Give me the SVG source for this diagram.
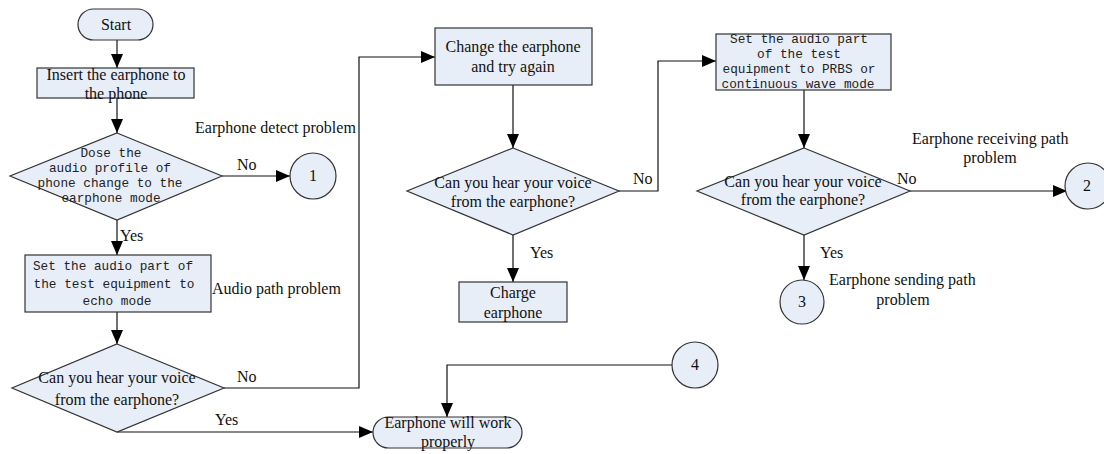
<svg xmlns="http://www.w3.org/2000/svg" width="1104" height="454" viewBox="0 0 1104 454">
<defs>
<marker id="ah" markerUnits="userSpaceOnUse" markerWidth="15" markerHeight="12" refX="14" refY="6" orient="auto">
<path d="M0,0 L14,6 L0,12 Z" fill="#000"/>
</marker>
<style>
.s{fill:#e8eef8;stroke:#333;stroke-width:1.2}
.t{font-family:"Liberation Serif",serif;font-size:16px;fill:#111}
.m{font-family:"Liberation Mono",monospace;font-size:13px;fill:#222}
.c{text-anchor:middle}
.l{fill:none;stroke:#111;stroke-width:1.2}
</style>
</defs>
<rect width="1104" height="454" fill="#fff"/>
<g id="connectors">
<path class="l" d="M117,40 V68" marker-end="url(#ah)"/>
<path class="l" d="M117,98 V133" marker-end="url(#ah)"/>
<path class="l" d="M222,176 H290" marker-end="url(#ah)"/>
<path class="l" d="M117,220 V255" marker-end="url(#ah)"/>
<path class="l" d="M117,312 V344" marker-end="url(#ah)"/>
<path class="l" d="M224,388 H359 V57 H435" marker-end="url(#ah)"/>
<path class="l" d="M117,432 H373" marker-end="url(#ah)"/>
<path class="l" d="M672,365 H447 V417" marker-end="url(#ah)"/>
<path class="l" d="M513,85 V148" marker-end="url(#ah)"/>
<path class="l" d="M619,191 H658 V61 H716" marker-end="url(#ah)"/>
<path class="l" d="M513,235 V282" marker-end="url(#ah)"/>
<path class="l" d="M804,90 V148" marker-end="url(#ah)"/>
<path class="l" d="M910,191 H1067" marker-end="url(#ah)"/>
<path class="l" d="M804,235 V280" marker-end="url(#ah)"/>
</g>
<g id="labels">
<text class="t" x="237" y="170">No</text>
<text class="t" x="195" y="133">Earphone detect problem</text>
<text class="t" x="120" y="241">Yes</text>
<text class="t" x="212" y="294">Audio path problem</text>
<text class="t" x="237" y="382">No</text>
<text class="t" x="215" y="425">Yes</text>
<text class="t" x="633" y="184">No</text>
<text class="t" x="530" y="258">Yes</text>
<text class="t" x="897" y="184">No</text>
<text class="t" x="912" y="144">Earphone receiving path</text>
<text class="t c" x="990" y="163">problem</text>
<text class="t" x="820" y="258">Yes</text>
<text class="t" x="829" y="285">Earphone sending path</text>
<text class="t c" x="903" y="305">problem</text>
</g>
<g id="start">
<rect class="s" x="78" y="9" width="75" height="31" rx="15.5"/>
<text class="t c" x="116" y="30">Start</text>
</g>
<g id="insert">
<rect class="s" x="37" y="68" width="157" height="30"/>
<text class="t c" x="116" y="80">Insert the earphone to</text>
<text class="t c" x="116" y="99">the phone</text>
</g>
<g id="q1">
<polygon class="s" points="117,133 222,176 117,220 10,176"/>
<text class="m c" x="111" y="157" textLength="61" lengthAdjust="spacingAndGlyphs">Dose the</text>
<text class="m c" x="110" y="172" textLength="122" lengthAdjust="spacingAndGlyphs">audio profile of</text>
<text class="m c" x="110" y="187" textLength="145" lengthAdjust="spacingAndGlyphs">phone change to the</text>
<text class="m c" x="111" y="202" textLength="99" lengthAdjust="spacingAndGlyphs">earphone mode</text>
</g>
<g id="c1">
<circle class="s" cx="313" cy="176" r="23"/>
<text class="t c" x="313" y="181">1</text>
</g>
<g id="echo">
<rect class="s" x="25" y="255" width="186" height="57"/>
<text class="m c" x="113" y="270" textLength="160" lengthAdjust="spacingAndGlyphs">Set the audio part of</text>
<text class="m c" x="114" y="288" textLength="161" lengthAdjust="spacingAndGlyphs">the test equipment to</text>
<text class="m c" x="117" y="305" textLength="69" lengthAdjust="spacingAndGlyphs">echo mode</text>
</g>
<g id="q2">
<polygon class="s" points="117,344 224,388 117,432 12,388"/>
<text class="t c" x="117" y="383">Can you hear your voice</text>
<text class="t c" x="117" y="405">from the earphone?</text>
</g>
<g id="work">
<rect class="s" x="373" y="417" width="149" height="31" rx="15.5"/>
<text class="t c" x="448" y="428">Earphone will work</text>
<text class="t c" x="448" y="447">properly</text>
</g>
<g id="c4">
<circle class="s" cx="695" cy="365" r="23"/>
<text class="t c" x="695" y="370">4</text>
</g>
<g id="change">
<rect class="s" x="435" y="28" width="157" height="57"/>
<text class="t c" x="513" y="52">Change the earphone</text>
<text class="t c" x="513" y="72">and try again</text>
</g>
<g id="q3">
<polygon class="s" points="513,148 619,191 513,235 407,191"/>
<text class="t c" x="513" y="188">Can you hear your voice</text>
<text class="t c" x="513" y="207">from the earphone?</text>
</g>
<g id="charge">
<rect class="s" x="459" y="282" width="108" height="40"/>
<text class="t c" x="513" y="298">Charge</text>
<text class="t c" x="513" y="318">earphone</text>
</g>
<g id="prbs">
<rect class="s" x="716" y="34" width="175" height="56"/>
<text class="m c" x="799" y="43" textLength="138" lengthAdjust="spacingAndGlyphs">Set the audio part</text>
<text class="m c" x="799" y="58" textLength="84" lengthAdjust="spacingAndGlyphs">of the test</text>
<text class="m c" x="799" y="73" textLength="153" lengthAdjust="spacingAndGlyphs">equipment to PRBS or</text>
<text class="m c" x="798" y="88" textLength="153" lengthAdjust="spacingAndGlyphs">continuous wave mode</text>
</g>
<g id="q4">
<polygon class="s" points="804,148 910,191 804,235 697,191"/>
<text class="t c" x="803" y="187">Can you hear your voice</text>
<text class="t c" x="803" y="205">from the earphone?</text>
</g>
<g id="c2">
<circle class="s" cx="1088" cy="186" r="23"/>
<text class="t c" x="1087" y="191">2</text>
</g>
<g id="c3">
<circle class="s" cx="802" cy="302" r="22"/>
<text class="t c" x="802" y="307">3</text>
</g>
</svg>
